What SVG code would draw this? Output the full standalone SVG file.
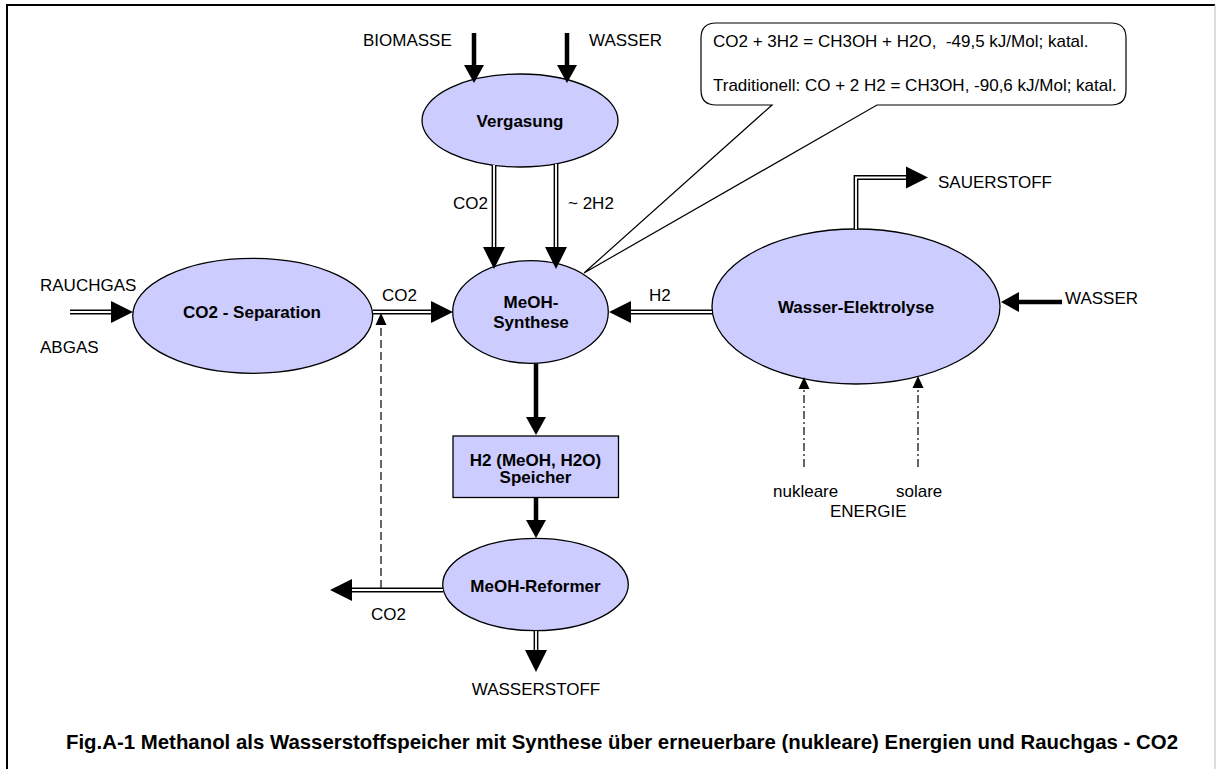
<svg xmlns="http://www.w3.org/2000/svg" width="1217" height="769" viewBox="0 0 1217 769">
<style>
  text { font-family: "Liberation Sans", Arial, sans-serif; font-size: 17px; fill: #000; }
  .b { font-weight: bold; }
  .m { text-anchor: middle; }
  .node { fill: #CCCCFF; stroke: #000; stroke-width: 1.3; }
  .thick { fill: none; stroke: #000; stroke-width: 4.5; }
  .dbl { fill: none; stroke: #000; stroke-width: 4.8; stroke-linejoin: miter; }
  .dbl-in { fill: none; stroke: #fff; stroke-width: 1.9; stroke-linejoin: miter; }
  .dash { fill: none; stroke: #000; stroke-width: 1.2; stroke-dasharray: 8 4; }
  .dashdot { fill: none; stroke: #000; stroke-width: 1.2; stroke-dasharray: 8 3 2 3; }
  .callout { fill: #fff; stroke: #000; stroke-width: 1.2; }
</style>
<defs>
  <marker id="ahBig" markerUnits="userSpaceOnUse" markerWidth="24" markerHeight="24" refX="0" refY="11" orient="auto" overflow="visible">
    <path d="M0,0 L22,11 L0,22 z" fill="#000"/>
  </marker>
  <marker id="ahMed" markerUnits="userSpaceOnUse" markerWidth="20" markerHeight="22" refX="0" refY="10" orient="auto" overflow="visible">
    <path d="M0,0 L18,10 L0,20 z" fill="#000"/>
  </marker>
  <marker id="ahSmall" markerUnits="userSpaceOnUse" markerWidth="14" markerHeight="12" refX="0" refY="5.5" orient="auto" overflow="visible">
    <path d="M0,0 L12,5.5 L0,11 z" fill="#000"/>
  </marker>
</defs>
<rect x="0" y="0" width="1217" height="769" fill="#fff"/>
<g id="frame">
  <path d="M7,769 V5 H1215" fill="none" stroke="#000" stroke-width="2"/>
  <path d="M1215,5 V769" fill="none" stroke="#bbb" stroke-width="1"/>
</g>

<g id="callout">
  <path class="callout" d="M716,23 H1111 Q1126,23 1126,38 V90 Q1126,105 1111,105 H877 L584,273 L772,105 H716 Q701,105 701,90 V38 Q701,23 716,23 Z"/>
  <text x="713" y="46.5" style="white-space:pre" xml:space="preserve">CO2 + 3H2 = CH3OH + H2O,  -49,5 kJ/Mol; katal.</text>
  <text x="713" y="90.5">Traditionell: CO + 2 H2 = CH3OH, -90,6 kJ/Mol; katal.</text>
</g>

<g id="node-vergasung">
  <ellipse class="node" cx="520" cy="120.5" rx="98" ry="46.5"/>
  <text class="b m" x="520" y="127">Vergasung</text>
</g>
<g id="node-meoh-synthese">
  <ellipse class="node" cx="530.5" cy="312" rx="77.8" ry="51.3"/>
  <text class="b m" x="531" y="308">MeOH-</text>
  <text class="b m" x="531" y="328">Synthese</text>
</g>
<g id="node-co2-separation">
  <ellipse class="node" cx="252.7" cy="315.8" rx="120" ry="57.5"/>
  <text class="b m" x="252" y="317.5">CO2 - Separation</text>
</g>
<g id="node-wasser-elektrolyse">
  <ellipse class="node" cx="856" cy="306.5" rx="144" ry="77.5"/>
  <text class="b m" x="856" y="313">Wasser-Elektrolyse</text>
</g>
<g id="node-speicher">
  <rect class="node" x="453" y="436" width="165.5" height="61.5"/>
  <text class="b m" x="535.5" y="466">H2 (MeOH, H2O)</text>
  <text class="b m" x="535.5" y="483">Speicher</text>
</g>
<g id="node-meoh-reformer">
  <ellipse class="node" cx="535.5" cy="584.5" rx="92.8" ry="46.2"/>
  <text class="b m" x="535.5" y="592">MeOH-Reformer</text>
</g>

<g id="connectors">
  <path class="thick" d="M474,33 V65" marker-end="url(#ahMed)"/>
  <path class="thick" d="M567,33 V65" marker-end="url(#ahMed)"/>
  <path class="thick" d="M536,363.5 V417" marker-end="url(#ahMed)"/>
  <path class="thick" d="M536,497.5 V520" marker-end="url(#ahMed)"/>
  <path class="thick" d="M1062,302 H1019" marker-end="url(#ahMed)"/>

  <path class="dbl" d="M494,165 V247" marker-end="url(#ahBig)"/>
  <path class="dbl-in" d="M494,165 V247"/>
  <path class="dbl" d="M556,164 V247" marker-end="url(#ahBig)"/>
  <path class="dbl-in" d="M556,164 V247"/>
  <path class="dbl" d="M70,312 H111" marker-end="url(#ahBig)"/>
  <path class="dbl-in" d="M70,312 H111"/>
  <path class="dbl" d="M373,312 H431" marker-end="url(#ahBig)"/>
  <path class="dbl-in" d="M373,312 H431"/>
  <path class="dbl" d="M712,312 H631" marker-end="url(#ahBig)"/>
  <path class="dbl-in" d="M712,312 H631"/>
  <path class="dbl" d="M856,229 V177.5 H906" marker-end="url(#ahBig)"/>
  <path class="dbl-in" d="M856,229 V177.5 H906"/>
  <path class="dbl" d="M443,590 H352" marker-end="url(#ahBig)"/>
  <path class="dbl-in" d="M443,590 H352"/>
  <path class="dbl" d="M536,631 V650" marker-end="url(#ahBig)"/>
  <path class="dbl-in" d="M536,631 V650"/>

  <path class="dash" d="M381,588 V325" marker-end="url(#ahSmall)"/>
  <path class="dashdot" d="M804,467 V389" marker-end="url(#ahSmall)"/>
  <path class="dashdot" d="M918,467 V388" marker-end="url(#ahSmall)"/>
</g>

<g id="labels">
  <text x="363" y="46">BIOMASSE</text>
  <text x="589" y="46">WASSER</text>
  <text x="453" y="209">CO2</text>
  <text x="568" y="209">~ 2H2</text>
  <text x="40" y="291">RAUCHGAS</text>
  <text x="40" y="353">ABGAS</text>
  <text x="382" y="301">CO2</text>
  <text x="649" y="301">H2</text>
  <text x="1065" y="304">WASSER</text>
  <text x="938" y="188">SAUERSTOFF</text>
  <text x="773" y="497">nukleare</text>
  <text x="896" y="497">solare</text>
  <text x="830" y="517">ENERGIE</text>
  <text x="371" y="620">CO2</text>
  <text class="m" x="536" y="695">WASSERSTOFF</text>
  <text class="b" x="66" y="749" style="font-size:20.4px" textLength="1112" lengthAdjust="spacingAndGlyphs">Fig.A-1 Methanol als Wasserstoffspeicher mit Synthese über erneuerbare (nukleare) Energien und Rauchgas - CO2</text>
</g>
</svg>
